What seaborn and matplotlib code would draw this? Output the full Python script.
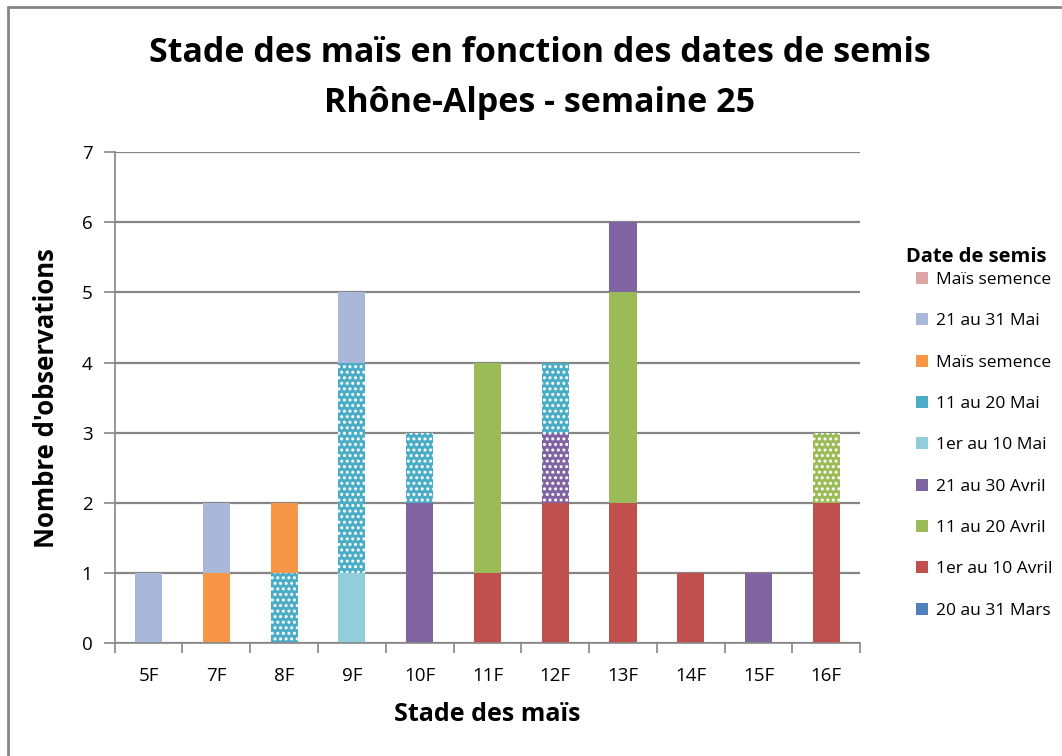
import numpy as np
import pandas as pd
import seaborn as sns
import matplotlib.pyplot as plt
from matplotlib.patches import Patch
from matplotlib.lines import Line2D

# Data
stades = ['5F', '7F', '8F', '9F', '10F', '11F', '12F', '13F', '14F', '15F', '16F']

# series in stacking order (bottom -> top)
mars_20_31 = [0, 0, 0, 0, 0, 0, 0, 0, 0, 0, 0]
avril_1_10 = [0, 0, 0, 0, 0, 1, 2, 2, 1, 0, 2]
avril_11_20 = [0, 0, 0, 0, 0, 3, 0, 3, 0, 0, 1]
avril_21_30 = [0, 0, 0, 0, 2, 0, 1, 1, 0, 1, 0]
mai_1_10 = [0, 0, 0, 1, 0, 0, 0, 0, 0, 0, 0]
mai_11_20 = [0, 0, 1, 3, 1, 0, 1, 0, 0, 0, 0]
semence_orange = [0, 1, 1, 0, 0, 0, 0, 0, 0, 0, 0]
mai_21_31 = [1, 1, 0, 1, 0, 0, 0, 0, 0, 0, 0]
semence_rose = [0, 0, 0, 0, 0, 0, 0, 0, 0, 0, 0]

series_names = ['20 au 31 Mars', '1er au 10 Avril', '11 au 20 Avril', '21 au 30 Avril',
                '1er au 10 Mai', '11 au 20 Mai', 'Maïs semence', '21 au 31 Mai', 'Maïs semence']
series_vals = [mars_20_31, avril_1_10, avril_11_20, avril_21_30, mai_1_10,
               mai_11_20, semence_orange, mai_21_31, semence_rose]
colors = ['#4F81BD', '#C0504D', '#9BBB59', '#8064A2', '#92CDDC',
          '#4BACC6', '#F79646', '#A9B8D8', '#DDA6A6']

# segments drawn with a dotted pattern (series index, stade)
hatched = {(5, '8F'), (5, '9F'), (5, '10F'), (5, '12F'), (3, '12F'), (2, '16F')}

sns.set_style('white')
plt.rcParams['font.family'] = ['Open Sans', 'DejaVu Sans']
plt.rcParams['text.color'] = 'black'
plt.rcParams['axes.labelcolor'] = 'black'
plt.rcParams['xtick.color'] = 'black'
plt.rcParams['ytick.color'] = 'black'
plt.rcParams['hatch.linewidth'] = 1.4

fig = plt.figure(figsize=(10.62, 7.56), dpi=100)
ax = fig.add_axes([0.108, 0.149, 0.702, 0.650])

grey = '#868686'
bottom = np.zeros(len(stades))
for i, (name, vals, col) in enumerate(zip(series_names, series_vals, colors)):
    df = pd.DataFrame({'stade': stades, 'n': vals})
    n_before = len(ax.patches)
    sns.barplot(data=df, x='stade', y='n', order=stades, color=col, saturation=1,
                width=0.40, bottom=bottom.copy(), linewidth=0, ax=ax)
    for p, st in zip(ax.patches[n_before:], stades):
        if (i, st) in hatched:
            p.set_hatch('...')
            p.set_edgecolor('white')
            p.set_linewidth(0)
    bottom += np.array(vals)

ax.set_xlim(-0.5, len(stades) - 0.5)
ax.set_ylim(0, 7)
ax.set_yticks(range(0, 8))
ax.yaxis.grid(True, color=grey, linewidth=1.6)
ax.set_axisbelow(True)
for s in ['top', 'right']:
    ax.spines[s].set_visible(False)
for s in ['left', 'bottom']:
    ax.spines[s].set_color(grey)
    ax.spines[s].set_linewidth(1.2)

ax.set_xticks(np.arange(-0.5, len(stades), 1.0), minor=True)
ax.tick_params(axis='x', which='major', length=0, pad=17, labelsize=13.5)
ax.tick_params(axis='x', which='minor', length=7, color=grey, width=1.2, direction='out')
ax.tick_params(axis='y', length=8, color=grey, width=1.2, direction='out', labelsize=13.5, pad=8)
ax.tick_params(axis='both', which='both', bottom=True, left=True)

ax.set_xlabel('Stade des maïs', fontsize=18, fontweight='bold', labelpad=12)
ax.set_ylabel("Nombre d'observations", fontsize=18.5, fontweight='bold', labelpad=16)

fig.suptitle('Stade des maïs en fonction des dates de semis\nRhône-Alpes - semaine 25',
             x=540 / 1062, fontsize=24.5, fontweight='bold', y=0.952, linespacing=1.62)

# legend: title as separate text so it sits close to the first entry
fig.text(976 / 1062, 1 - 257 / 756, 'Date de semis', ha='center', va='center',
         fontsize=14.5, fontweight='bold')
handles = [Patch(facecolor=c, edgecolor='none') for c in colors][::-1]
fig.legend(handles, series_names[::-1], loc='upper left',
           bbox_to_anchor=(916 / 1062, 1 - 272 / 756),
           frameon=False, fontsize=12.5,
           labelspacing=1.45, handlelength=0.7, handleheight=0.7, handletextpad=0.45,
           borderaxespad=0, borderpad=0)

# chart area border (only top and left edges show in the picture)
fig.add_artist(Line2D([8 / 1062, 1.0], [1 - 7 / 756] * 2, transform=fig.transFigure,
                      color=grey, linewidth=2))
fig.add_artist(Line2D([8 / 1062] * 2, [0.0, 1 - 7 / 756], transform=fig.transFigure,
                      color=grey, linewidth=2))

fig.savefig('out.png', dpi=100)
